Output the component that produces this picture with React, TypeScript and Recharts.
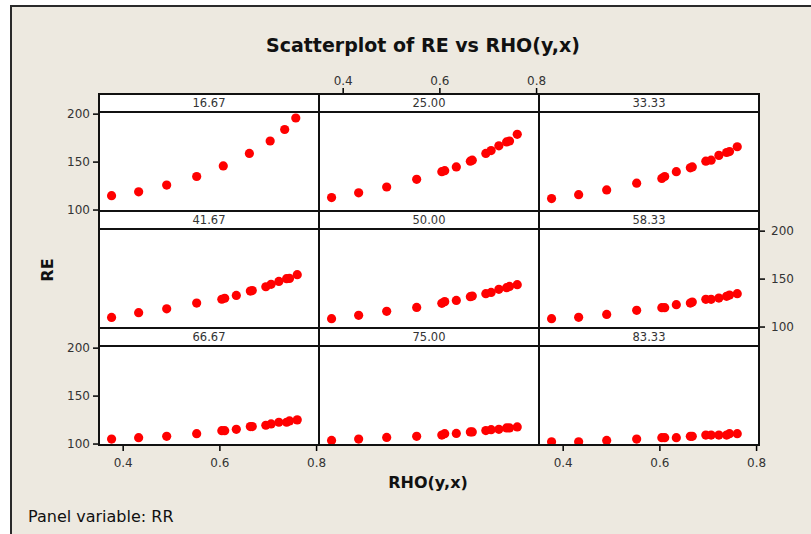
import React from 'react';
import { ScatterChart, Scatter, XAxis, YAxis } from 'recharts';

// ---------- data ----------
const PANEL_LABELS = ['16.67', '25.00', '33.33', '41.67', '50.00', '58.33', '66.67', '75.00', '83.33'];

const RHO = [0.376, 0.432, 0.49, 0.552, 0.604, 0.61, 0.634, 0.663, 0.667, 0.695, 0.706, 0.722, 0.738, 0.744, 0.76];
const RHO_16 = [0.376, 0.432, 0.49, 0.552, 0.607, 0.661, 0.704, 0.734, 0.757];

const RE_16_67 = [115, 119, 126, 135, 146, 159, 172, 184, 196];
const RE_25_00 = [113, 118, 124, 132, 140, 141, 145, 151, 152, 159, 162, 167, 171, 172, 179];
const RE_33_33 = [112, 116, 121, 128, 133, 135, 140, 144, 145, 151, 152, 157, 160, 161, 166];
const RE_41_67 = [110, 115, 119, 125, 129, 130, 133, 137.5, 138, 142, 144.5, 147.6, 150.4, 150.7, 154.6];
const RE_50_00 = [108.7, 112.2, 116.4, 120.5, 124.7, 126.5, 127.8, 131.7, 132.3, 134.8, 136.1, 139.3, 141, 142.4, 144.2];
const RE_58_33 = [108.7, 110.1, 113.2, 117.4, 120.2, 120.2, 123.3, 125, 126, 128.9, 128.9, 130.2, 132, 133.3, 134.8];
const RE_66_67 = [105.2, 106.6, 108, 110.8, 113.9, 113.9, 115.3, 118.2, 118.2, 119.6, 121, 122.7, 122.7, 124.1, 125.2];
const RE_75_00 = [103.8, 105.2, 106.9, 108, 109.4, 110.8, 111.1, 112.6, 112.6, 114, 115, 115.3, 116.8, 116.8, 117.8];
const RE_83_33 = [102.4, 102.4, 103.8, 105.2, 106.6, 106.6, 106.6, 108, 108, 109.4, 109.4, 109.4, 109.4, 110.8, 110.8];

const X_TICKS = [0.4, 0.6, 0.8];
const Y_TICKS = [100, 150, 200];
const X_DOMAIN: [number, number] = [0.35, 0.805];
const Y_DOMAIN: [number, number] = [99, 221]; // includes panel header strip

// ---------- layout ----------
const FONT = '"DejaVu Sans", Verdana, sans-serif';
const COL_X = [99, 319, 539];
const ROW_Y = [94, 211, 328];
const PW = 220;
const PH = 117;
const HEADER = 18;
const BG = '#ede9e0';

type XOr = 'top' | 'bottom' | null;
type YOr = 'left' | 'right' | null;

const PANELS: { label: string; xs: number[]; ys: number[]; xAxis: XOr; yAxis: YOr }[] = [
  { label: PANEL_LABELS[0], xs: RHO_16, ys: RE_16_67, xAxis: null, yAxis: 'left' },
  { label: PANEL_LABELS[1], xs: RHO, ys: RE_25_00, xAxis: 'top', yAxis: null },
  { label: PANEL_LABELS[2], xs: RHO, ys: RE_33_33, xAxis: null, yAxis: null },
  { label: PANEL_LABELS[3], xs: RHO, ys: RE_41_67, xAxis: null, yAxis: null },
  { label: PANEL_LABELS[4], xs: RHO, ys: RE_50_00, xAxis: null, yAxis: null },
  { label: PANEL_LABELS[5], xs: RHO, ys: RE_58_33, xAxis: null, yAxis: 'right' },
  { label: PANEL_LABELS[6], xs: RHO, ys: RE_66_67, xAxis: 'bottom', yAxis: 'left' },
  { label: PANEL_LABELS[7], xs: RHO, ys: RE_75_00, xAxis: null, yAxis: null },
  { label: PANEL_LABELS[8], xs: RHO, ys: RE_83_33, xAxis: 'bottom', yAxis: null },
];

const RedDot = (p: any) => <circle cx={p.cx} cy={p.cy} r={4.6} fill="#ff0000" />;

function PanelChart({ xs, ys, left, top, xAxis, yAxis }: any) {
  const M = 15;
  const YW = 50;
  const XH = 30;
  const offL = M + (yAxis === 'left' ? YW : 0);
  const offT = M + (xAxis === 'top' ? XH : 0);
  const width = PW + 2 * M + (yAxis ? YW : 0);
  const height = PH + 2 * M + (xAxis ? XH : 0);
  const data = xs.map((x: number, i: number) => ({ x, y: ys[i] }));
  const tickStyle = { fill: '#333', fontSize: 12, fontFamily: FONT };
  return (
    <div style={{ position: 'absolute', left: left - offL, top: top - offT }}>
      <ScatterChart width={width} height={height} margin={{ top: M, right: M, bottom: M, left: M }}>
        <XAxis
          type="number"
          dataKey="x"
          domain={X_DOMAIN}
          ticks={X_TICKS}
          interval={0}
          allowDataOverflow
          hide={!xAxis}
          orientation={xAxis || 'bottom'}
          height={XH}
          axisLine={false}
          tickLine={{ stroke: '#000', strokeWidth: 1.5 }}
          tickSize={6}
          tickMargin={xAxis === 'top' ? 3 : 7}
          tick={tickStyle}
          tickFormatter={(v: number) => v.toFixed(1)}
        />
        <YAxis
          type="number"
          dataKey="y"
          domain={Y_DOMAIN}
          ticks={Y_TICKS}
          interval={0}
          allowDataOverflow
          hide={!yAxis}
          orientation={yAxis || 'left'}
          width={YW}
          axisLine={false}
          tickLine={{ stroke: '#000', strokeWidth: 1.5 }}
          tickSize={6}
          tickMargin={yAxis === 'right' ? 6 : 3}
          tick={tickStyle}
        />
        <Scatter data={data} isAnimationActive={false} shape={RedDot} />
      </ScatterChart>
    </div>
  );
}

export default function App() {
  return (
    <div
      style={{
        position: 'absolute',
        left: 0,
        top: 0,
        width: 811,
        height: 534,
        overflow: 'hidden',
        background: '#fff',
        fontFamily: FONT,
      }}
    >
      <div
        style={{
          position: 'absolute',
          left: 10,
          top: 5,
          width: 801,
          height: 529,
          background: BG,
          borderTop: '2px solid #2a2a2a',
          borderLeft: '2px solid #2a2a2a',
          boxSizing: 'border-box',
        }}
      />
      {/* title */}
      <div
        style={{
          position: 'absolute',
          left: 0,
          width: 846,
          top: 32,
          textAlign: 'center',
          fontSize: 19,
          fontWeight: 'bold',
          color: '#111',
          lineHeight: '26px',
        }}
      >
        Scatterplot of RE vs RHO(y,x)
      </div>
      {/* panel white backgrounds */}
      {PANELS.map((p, i) => (
        <div
          key={'bg' + i}
          style={{
            position: 'absolute',
            left: COL_X[i % 3],
            top: ROW_Y[Math.floor(i / 3)],
            width: PW,
            height: PH,
            background: '#fff',
          }}
        />
      ))}
      {/* charts */}
      {PANELS.map((p, i) => (
        <PanelChart
          key={'c' + i}
          xs={p.xs}
          ys={p.ys}
          left={COL_X[i % 3]}
          top={ROW_Y[Math.floor(i / 3)]}
          xAxis={p.xAxis}
          yAxis={p.yAxis}
        />
      ))}
      {/* headers and borders */}
      {PANELS.map((p, i) => {
        const x = COL_X[i % 3];
        const y = ROW_Y[Math.floor(i / 3)];
        return (
          <React.Fragment key={'h' + i}>
            <div
              style={{
                position: 'absolute',
                left: x,
                top: y,
                width: PW,
                height: HEADER,
                background: '#fff',
                textAlign: 'center',
                fontSize: 11.5,
                lineHeight: '19px',
                color: '#333',
              }}
            >
              {p.label}
            </div>
            <div
              style={{
                position: 'absolute',
                left: x,
                top: y + HEADER - 1,
                width: PW,
                height: 2,
                background: '#111',
              }}
            />
            <div
              style={{
                position: 'absolute',
                left: x - 1,
                top: y - 1,
                width: PW + 2,
                height: PH + 2,
                border: '2px solid #111',
                boxSizing: 'border-box',
              }}
            />
          </React.Fragment>
        );
      })}
      {/* axis titles */}
      <div
        style={{
          position: 'absolute',
          left: 47,
          top: 270,
          transform: 'translate(-50%, -50%) rotate(-90deg)',
          fontSize: 16,
          fontWeight: 'bold',
          color: '#111',
          whiteSpace: 'nowrap',
        }}
      >
        RE
      </div>
      <div
        style={{
          position: 'absolute',
          left: 428,
          top: 482,
          transform: 'translate(-50%, -50%)',
          fontSize: 16,
          fontWeight: 'bold',
          color: '#111',
          whiteSpace: 'nowrap',
        }}
      >
        RHO(y,x)
      </div>
      <div
        style={{
          position: 'absolute',
          left: 28,
          top: 506,
          fontSize: 16,
          color: '#111',
          lineHeight: '22px',
          whiteSpace: 'nowrap',
        }}
      >
        Panel variable: RR
      </div>
    </div>
  );
}
